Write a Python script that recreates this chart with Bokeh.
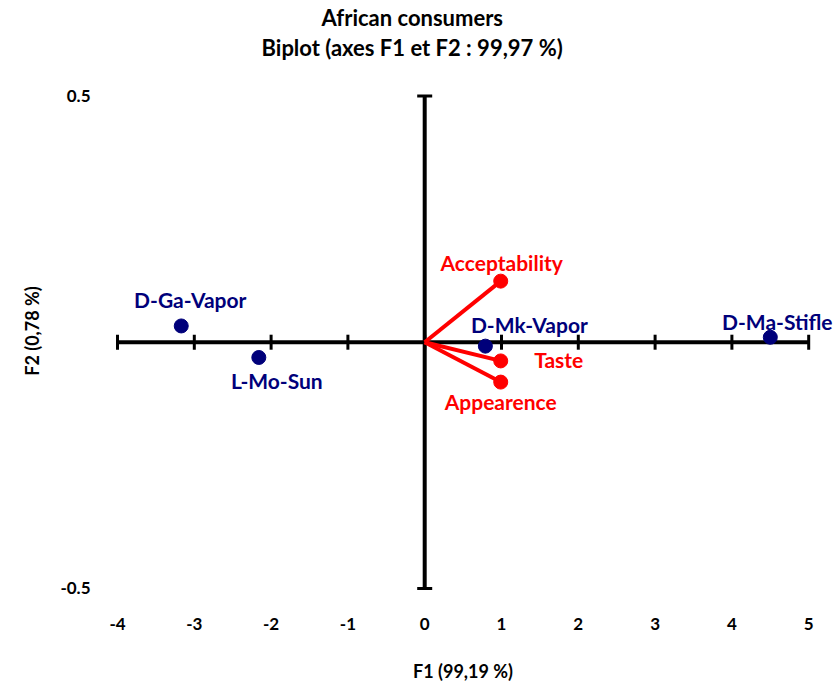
from bokeh.plotting import figure
from bokeh.models import ColumnDataSource, Title, FixedTicker
from bokeh.core.properties import value
from bokeh.embed import file_html
from bokeh.resources import INLINE
from math import pi

# Observations: coordinates on F1 / F2
obs_names = ["D-Ga-Vapor", "L-Mo-Sun", "D-Mk-Vapor", "D-Ma-Stifle"]
obs_f1 = [-3.17, -2.16, 0.79, 4.50]
obs_f2 = [0.033, -0.031, -0.008, 0.010]

# Variables: loadings on F1 / F2
var_names = ["Acceptability", "Taste", "Appearence"]
var_f1 = [0.99, 0.99, 0.99]
var_f2 = [0.124, -0.038, -0.081]

# Axis ticks
x_ticks = [-4, -3, -2, -1, 0, 1, 2, 3, 4, 5]
y_ticks = [-0.5, 0.5]

FONT = "Lato"
NAVY = "#00007A"
RED = "#FF0000"

# label offsets in screen pixels (dx, dy; dy positive = downwards)
obs_dx = [9, 18, 44, 7]
obs_dy = [-26, 23, -22, -16]
var_dx = [1, 58, 0]
var_dy = [-19, -1, 19]

p = figure(
    width=839, height=687,
    x_range=(-4.3516, 5.3490), y_range=(-0.5244, 0.5699),
    min_border_left=90, min_border_right=4,
    min_border_top=0, min_border_bottom=87,
    output_backend="svg", toolbar_location=None,
)
p.xgrid.visible = False
p.ygrid.visible = False
p.outline_line_color = None
p.background_fill_color = "white"
p.border_fill_color = "white"

# Two-line title, each line centred on the same point
p.title.text = "African consumers"
p.title.align = "left"
p.title.offset = 231
p.title.standoff = 3
p.title.text_font = FONT
p.title.text_font_style = "bold"
p.title.text_font_size = "22px"
p.title.text_color = "black"
p.add_layout(Title(text="Biplot (axes F1 et F2 : 99,97 %)", align="left", offset=171,
                   standoff=0, vertical_align="middle", text_font=FONT,
                   text_font_style="bold", text_font_size="22px",
                   text_color="black"), "above")

# Outer axes: only tick labels and titles
for ax in (p.xaxis[0], p.yaxis[0]):
    ax.axis_line_color = None
    ax.major_tick_line_color = None
    ax.minor_tick_line_color = None
    ax.major_tick_out = 0
    ax.major_tick_in = 0
    ax.major_label_text_font = FONT
    ax.major_label_text_font_style = "bold"
    ax.major_label_text_font_size = "17px"
    ax.major_label_text_color = "black"
    ax.axis_label_text_font = FONT
    ax.axis_label_text_font_style = "bold"
    ax.axis_label_text_font_size = "18px"
    ax.axis_label_text_color = "black"

p.xaxis.ticker = FixedTicker(ticks=x_ticks)
p.yaxis.ticker = FixedTicker(ticks=y_ticks)
p.xaxis.major_label_overrides = {t: str(t) for t in x_ticks}
p.yaxis.major_label_overrides = {t: str(t) for t in y_ticks}
p.xaxis.axis_label = "F1 (99,19 %)"
p.yaxis.axis_label = "F2 (0,78 %)"
p.xaxis.major_label_standoff = 17
p.xaxis.axis_label_standoff = 27
p.yaxis.major_label_standoff = 0
p.yaxis.axis_label_standoff = 14
p.yaxis.major_label_orientation = "horizontal"

# Central cross axes
p.segment(x0=[x_ticks[0], 0], y0=[0, y_ticks[0]], x1=[x_ticks[-1], 0], y1=[0, y_ticks[-1]],
          line_color="black", line_width=4)
p.scatter(x=x_ticks, y=[0] * len(x_ticks), marker="dash", angle=pi / 2,
          size=15, line_color="black", line_width=3)
p.scatter(x=[0] * len(y_ticks), y=y_ticks, marker="dash",
          size=15, line_color="black", line_width=3)

# Variable vectors
var_src = ColumnDataSource(dict(x=var_f1, y=var_f2, name=var_names,
                                x0=[0] * len(var_f1), y0=[0] * len(var_f1),
                                dx=var_dx, dy=var_dy))
p.segment(x0="x0", y0="y0", x1="x", y1="y", source=var_src, line_color=RED, line_width=4)
p.scatter(x="x", y="y", source=var_src, size=14, fill_color=RED, line_color=RED)
p.text(x="x", y="y", text="name", source=var_src, x_offset="dx", y_offset="dy",
       text_align="center", text_baseline="middle", text_color=RED,
       text_font=value(FONT), text_font_style="bold", text_font_size="21px")

# Observations
obs_src = ColumnDataSource(dict(x=obs_f1, y=obs_f2, name=obs_names, dx=obs_dx, dy=obs_dy))
p.scatter(x="x", y="y", source=obs_src, size=14, fill_color=NAVY, line_color=NAVY)
p.text(x="x", y="y", text="name", source=obs_src, x_offset="dx", y_offset="dy",
       text_align="center", text_baseline="middle", text_color=NAVY,
       text_font=value(FONT), text_font_style="bold", text_font_size="21px")

open("out.html", "w").write(file_html(p, INLINE))
